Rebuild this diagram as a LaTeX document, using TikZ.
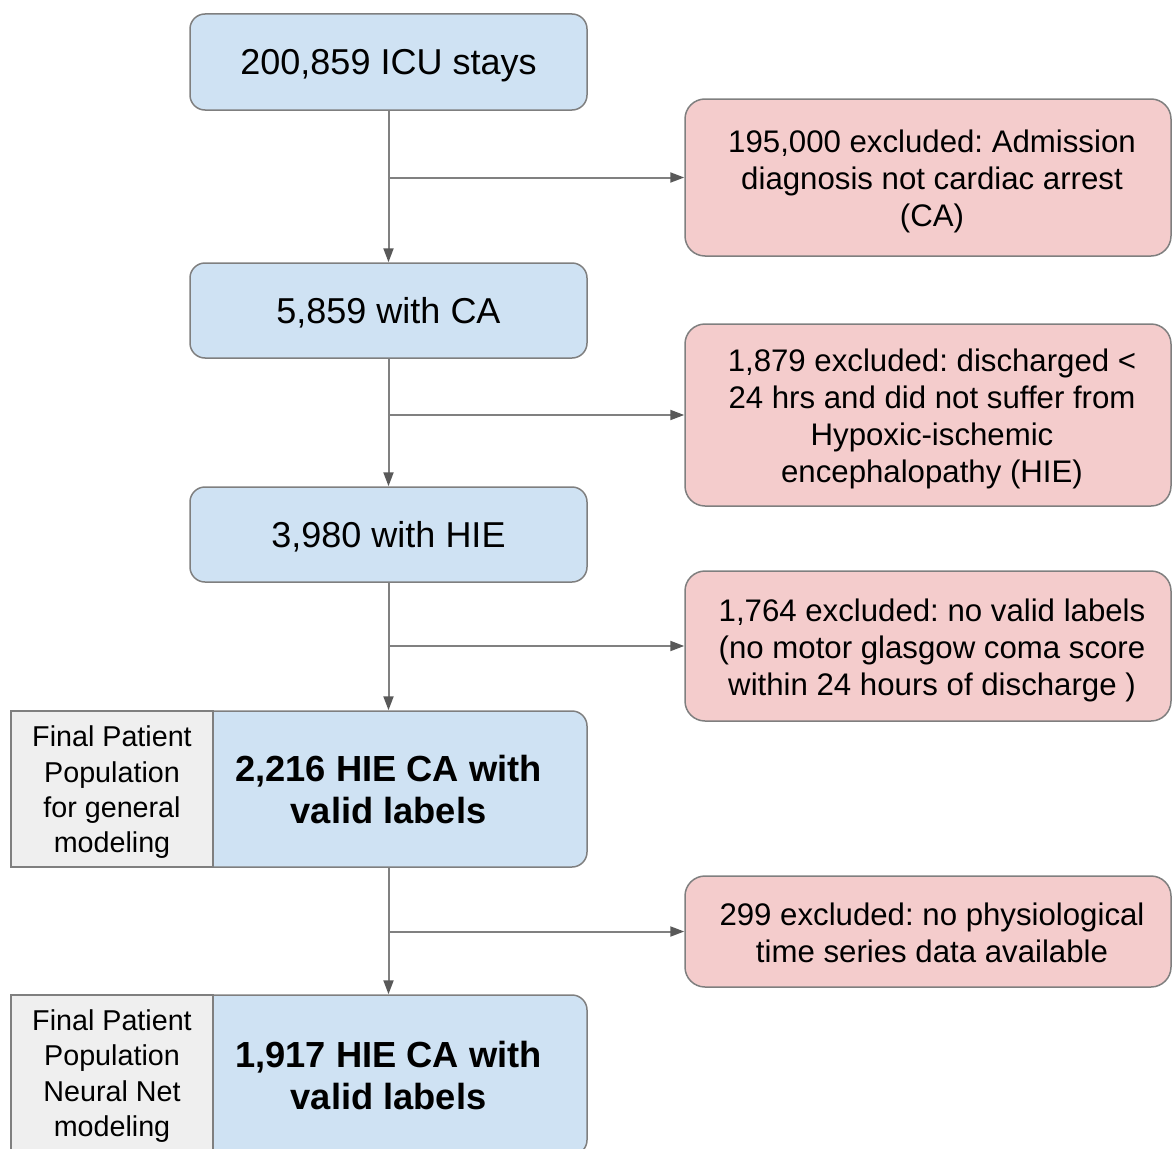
\documentclass[tikz,border=0pt]{standalone}
\usepackage{fontspec}
\setmainfont{Liberation Sans}
\usetikzlibrary{arrows.meta}
\frenchspacing
\definecolor{bluefill}{HTML}{CFE2F3}
\definecolor{pinkfill}{HTML}{F4CCCC}
\definecolor{grayfill}{HTML}{EFEFEF}
\definecolor{edgegray}{HTML}{7F7F7F}
\definecolor{linegray}{HTML}{808080}
\definecolor{tipgray}{HTML}{595959}
\tikzset{
  bluebox/.style={draw=edgegray, line width=1.5pt, fill=bluefill, rounded corners=15pt,
    minimum width=397pt, inner sep=0pt},
  pinkbox/.style={draw=edgegray, line width=1.5pt, fill=pinkfill, rounded corners=20pt,
    minimum width=486pt, inner sep=0pt},
  graybox/.style={draw=edgegray, line width=1.5pt, fill=grayfill,
    minimum width=202pt, inner sep=0pt},
  bluetext/.style={inner sep=0pt, align=center, font=\fontsize{36}{43}\selectfont},
  boldtext/.style={inner sep=0pt, align=center, font=\fontsize{36.3}{42}\selectfont\bfseries},
  pinktext/.style={inner sep=0pt, align=center, font=\fontsize{31.2}{37}\selectfont},
  graytext/.style={inner sep=0pt, align=center, font=\fontsize{28.7}{35.3}\selectfont},
  conn/.style={draw=linegray, line width=2pt, -{Triangle[length=14pt,width=10pt,color=tipgray]}},
}
\begin{document}
\begin{tikzpicture}[x=1pt,y=-1pt]
\useasboundingbox (0,0) rectangle (1172,1148);
\clip (0,0) rectangle (1172,1148);
\node[bluebox, minimum height=96pt] (b1) at (388.5,62) {};
\node[bluebox, minimum height=95pt] (b2) at (388.5,310.5) {};
\node[bluebox, minimum height=95pt] (b3) at (388.5,534.5) {};
\node[bluebox, minimum height=156pt] (b4) at (388.5,789) {};
\node[bluebox, minimum height=160pt] (b5) at (388.5,1075) {};
\node[graybox, minimum height=156pt] (g4) at (112,789) {};
\node[graybox, minimum height=160pt] (g5) at (112,1075) {};
\node[pinkbox, minimum height=157pt] (p1) at (928,177.5) {};
\node[pinkbox, minimum height=182pt] (p2) at (928,415) {};
\node[pinkbox, minimum height=150pt] (p3) at (928,646) {};
\node[pinkbox, minimum height=111pt] (p4) at (928,931.5) {};
\node[bluetext] (tb1) at ([yshift=-4pt]b1.center) {200,859 ICU stays};
\node[bluetext] (tb2) at ([yshift=-2.5pt]b2.center) {5,859 with CA};
\node[bluetext] (tb3) at ([yshift=-2.5pt]b3.center) {3,980 with HIE};
\node[boldtext] (tb4) at ([yshift=-1pt]b4.center) {2,216 HIE CA with\\valid labels};
\node[boldtext] (tb5) at ([yshift=-1pt]b5.center) {1,917 HIE CA with\\valid labels};
\node[graytext] (tg4) at ([yshift=-3.5pt]g4.center) {Final Patient\\Population\\for general\\modeling};
\node[graytext] (tg5) at ([yshift=-1pt]g5.center) {Final Patient\\Population\\Neural Net\\modeling};
\node[pinktext] (tp1) at ([xshift=4pt,yshift=-4pt]p1.center) {195,000 excluded: Admission\\diagnosis not cardiac arrest\\(CA)};
\node[pinktext] (tp2) at ([xshift=4pt,yshift=-4pt]p2.center) {1,879 excluded: discharged <\\24 hrs and did not suffer from\\Hypoxic-ischemic\\encephalopathy (HIE)};
\node[pinktext] (tp3) at ([xshift=4pt,yshift=-4.5pt]p3.center) {1,764 excluded: no valid labels\\(no motor glasgow coma score\\within 24 hours of discharge )};
\node[pinktext] (tp4) at ([xshift=4pt,yshift=-1pt]p4.center) {299 excluded: no physiological\\time series data available};
\coordinate (j1) at (b1.south |- p1.west);
\coordinate (j2) at (b2.south |- p2.west);
\coordinate (j3) at (b3.south |- p3.west);
\coordinate (j4) at (b4.south |- p4.west);
\draw[conn] (b1.south) -- (b2.north);
\draw[conn] (b2.south) -- (b3.north);
\draw[conn] (b3.south) -- (b4.north);
\draw[conn] (b4.south) -- (b5.north);
\draw[conn] (j1) -- (p1.west);
\draw[conn] (j2) -- (p2.west);
\draw[conn] (j3) -- (p3.west);
\draw[conn] (j4) -- (p4.west);
\end{tikzpicture}
\end{document}
